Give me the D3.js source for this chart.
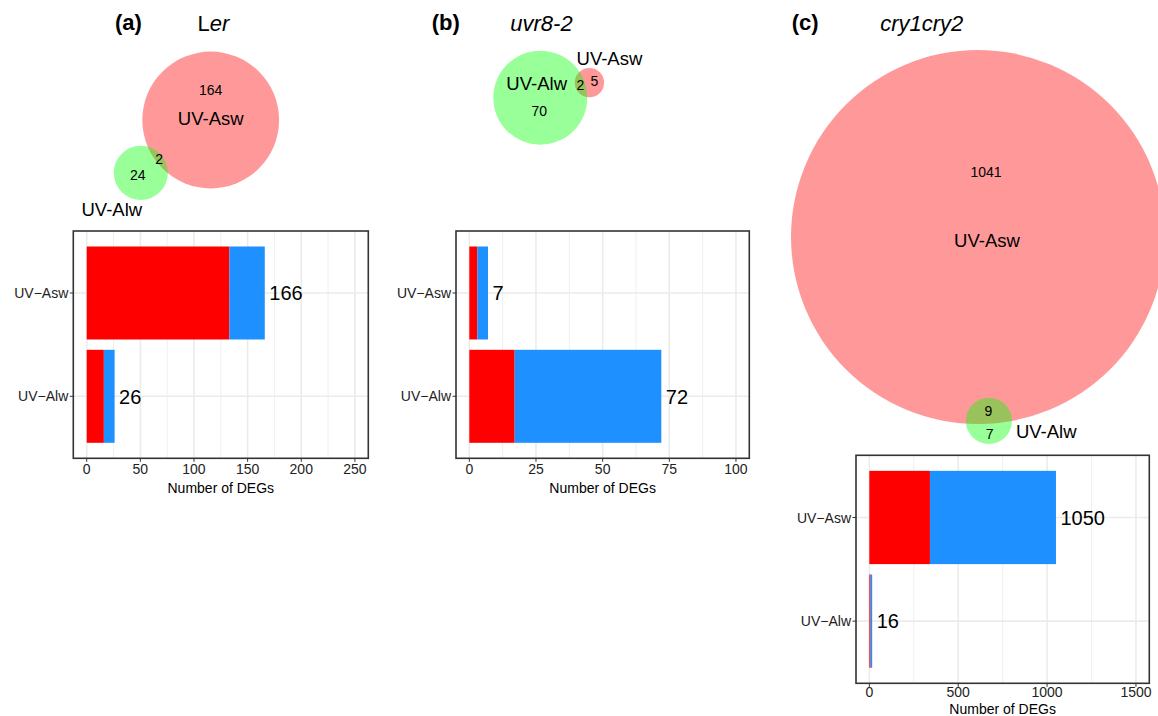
<!DOCTYPE html>
<html>
<head>
<meta charset="utf-8">
<script src="https://cdn.jsdelivr.net/npm/d3@7"></script>
<style>
  html, body { margin: 0; padding: 0; background: #fff; }
  svg { display: block; font-family: "Liberation Sans", Arial, Helvetica, sans-serif; }
</style>
</head>
<body>
<svg id="chart" width="1158" height="716"></svg>
<script>
// ---- data ----
const categories = ["UV-Asw", "UV-Alw"];
const panelTags = ["(a)", "(b)", "(c)"];
const genotypes = ["Ler", "uvr8-2", "cry1cry2"];

// up- (red) and down-regulated (blue) DEG counts, per category
const lerUp = [133, 16];
const lerDown = [33, 10];
const uvr8Up = [3, 17];
const uvr8Down = [4, 55];
const cryUp = [341, 7];
const cryDown = [709, 9];

// Venn counts per genotype
const aswOnly = [164, 5, 1041];
const alwOnly = [24, 70, 7];
const shared = [2, 2, 9];

// x axis limits and tick labels
const xMax = [250, 100, 1500];
const xTicks = [
  [0, 50, 100, 150, 200, 250],
  [0, 25, 50, 75, 100],
  [0, 500, 1000, 1500]
];

const upSeries = [lerUp, uvr8Up, cryUp];
const downSeries = [lerDown, uvr8Down, cryDown];

// ---- layout ----
const layout = [
  {
    frame: { x0: 73.3, x1: 368.3, y0: 231, y1: 458.3 }, tickPad: 16, titlePad: 34.4,
    tag: { x: 115, y: 30 }, title: { x: 213.5, y: 31 },
    venn: { big: 0, cx: 210.7, cy: 120, r: 68.4, angle: 142.9,
            bigOnlyOff: [0, -30], bigNameOff: [0, -1.5], smallNameOff: [-29, 37], smallAnchor: "middle" }
  },
  {
    frame: { x0: 456, x1: 749.3, y0: 231, y1: 458.3 }, tickPad: 16, titlePad: 34.4,
    tag: { x: 431.7, y: 30 }, title: { x: 541.5, y: 31 },
    venn: { big: 1, cx: 540.3, cy: 97.7, r: 47, angle: -17,
            bigOnlyOff: [-1, 13], bigNameOff: [-3.6, -14.4], smallNameOff: [20, -24], smallAnchor: "middle" }
  },
  {
    frame: { x0: 856, x1: 1149.3, y0: 455.3, y1: 683.3 }, tickPad: 13.4, titlePad: 30.5,
    tag: { x: 791.7, y: 29.5 }, title: { x: 921.8, y: 31 },
    venn: { big: 0, cx: 978, cy: 237, r: 187, angle: 86.6,
            bigOnlyOff: [8, -65], bigNameOff: [9, 3], smallNameOff: [27, 11], smallAnchor: "start" }
  }
];

const RED = "#ff0000", BLUE = "#1e90ff";
const svg = d3.select("#chart");

// intersection area of two circles at centre distance d
function lensArea(r1, r2, d) {
  if (d >= r1 + r2) return 0;
  if (d <= Math.abs(r1 - r2)) return Math.PI * Math.min(r1, r2) ** 2;
  const a1 = Math.acos((d * d + r1 * r1 - r2 * r2) / (2 * d * r1));
  const a2 = Math.acos((d * d + r2 * r2 - r1 * r1) / (2 * d * r2));
  const k = Math.sqrt((-d + r1 + r2) * (d + r1 - r2) * (d - r1 + r2) * (d + r1 + r2));
  return r1 * r1 * a1 + r2 * r2 * a2 - 0.5 * k;
}
function solveDistance(r1, r2, target) {
  let lo = Math.abs(r1 - r2), hi = r1 + r2;
  for (let i = 0; i < 80; i++) {
    const mid = (lo + hi) / 2;
    if (lensArea(r1, r2, mid) > target) lo = mid; else hi = mid;
  }
  return (lo + hi) / 2;
}

layout.forEach((L, p) => {
  const g = svg.append("g");

  // panel tag and genotype title
  g.append("text").attr("x", L.tag.x).attr("y", L.tag.y)
    .attr("font-size", 22).attr("font-weight", "bold").text(panelTags[p]);
  const t = g.append("text").attr("x", L.title.x).attr("y", L.title.y)
    .attr("font-size", 22).attr("text-anchor", "middle");
  if (genotypes[p] === "Ler") {
    t.append("tspan").text("L");
    t.append("tspan").attr("font-style", "italic").text("er");
  } else {
    t.attr("font-style", "italic").text(genotypes[p]);
  }

  // ---- Euler diagram ----
  const V = L.venn;
  const totals = [aswOnly[p] + shared[p], alwOnly[p] + shared[p]]; // [Asw, Alw]
  const bigIdx = V.big, smallIdx = 1 - V.big;
  const k = V.r / Math.sqrt(totals[bigIdx]);
  const rScale = d3.scaleSqrt().domain([0, totals[bigIdx]]).range([0, V.r]);
  const r1 = rScale(totals[bigIdx]);
  const r2 = rScale(totals[smallIdx]);
  const d = solveDistance(r1, r2, Math.PI * k * k * shared[p]);
  const ang = V.angle * Math.PI / 180;
  const ux = Math.cos(ang), uy = Math.sin(ang);
  const c1 = [V.cx, V.cy];
  const c2 = [V.cx + d * ux, V.cy + d * uy];
  const centers = bigIdx === 0 ? [c1, c2] : [c2, c1];
  const radii = bigIdx === 0 ? [r1, r2] : [r2, r1];
  const fills = ["#ff0000", "#00ff00"]; // Asw, Alw

  [0, 1].forEach(i => {
    g.append("circle")
      .attr("cx", centers[i][0]).attr("cy", centers[i][1]).attr("r", radii[i])
      .attr("fill", fills[i]).attr("fill-opacity", 0.4);
  });

  const bigOnlyCount = bigIdx === 0 ? aswOnly[p] : alwOnly[p];
  const smallOnlyCount = bigIdx === 0 ? alwOnly[p] : aswOnly[p];
  const numLabel = (x, y, txt) => g.append("text").attr("x", x).attr("y", y)
    .attr("font-size", 14).attr("text-anchor", "middle")
    .attr("dominant-baseline", "central").text(txt);
  const nameLabel = (x, y, txt, anchor) => g.append("text").attr("x", x).attr("y", y)
    .attr("font-size", 18.5).attr("text-anchor", anchor)
    .attr("dominant-baseline", "central").text(txt);

  const lensMid = (d - r2 + r1) / 2;
  const smallMid = (r1 + d + r2) / 2;
  numLabel(V.cx + V.bigOnlyOff[0], V.cy + V.bigOnlyOff[1], bigOnlyCount);
  nameLabel(V.cx + V.bigNameOff[0], V.cy + V.bigNameOff[1], categories[bigIdx], "middle");
  numLabel(V.cx + lensMid * ux, V.cy + lensMid * uy, shared[p]);
  numLabel(V.cx + smallMid * ux, V.cy + smallMid * uy, smallOnlyCount);
  nameLabel(c2[0] + V.smallNameOff[0], c2[1] + V.smallNameOff[1], categories[smallIdx], V.smallAnchor);

  // ---- stacked bar chart ----
  const F = L.frame;
  const pad = xMax[p] * 0.05;
  const x = d3.scaleLinear().domain([-pad, xMax[p] + pad]).range([F.x0, F.x1]);
  const y = d3.scaleBand().domain(categories).range([F.y0, F.y1])
    .paddingInner(0.1).paddingOuter(0.15);

  const ticks = xTicks[p];
  const minor = d3.pairs(ticks).map(([a, b]) => (a + b) / 2);

  const grid = g.append("g");
  grid.selectAll("line.minor").data(minor).join("line")
    .attr("x1", v => x(v)).attr("x2", v => x(v)).attr("y1", F.y0).attr("y2", F.y1)
    .attr("stroke", "#ebebeb").attr("stroke-width", 0.8);
  grid.selectAll("line.major").data(ticks).join("line")
    .attr("x1", v => x(v)).attr("x2", v => x(v)).attr("y1", F.y0).attr("y2", F.y1)
    .attr("stroke", "#ebebeb").attr("stroke-width", 1.6);
  grid.selectAll("line.hmajor").data(categories).join("line")
    .attr("x1", F.x0).attr("x2", F.x1)
    .attr("y1", c => y(c) + y.bandwidth() / 2).attr("y2", c => y(c) + y.bandwidth() / 2)
    .attr("stroke", "#ebebeb").attr("stroke-width", 1.6);

  const rows = categories.map((c, i) => ({
    cat: c, up: upSeries[p][i], down: downSeries[p][i], total: upSeries[p][i] + downSeries[p][i]
  }));

  g.selectAll("rect.up").data(rows).join("rect")
    .attr("x", r => x(0)).attr("y", r => y(r.cat))
    .attr("width", r => x(r.up) - x(0)).attr("height", y.bandwidth())
    .attr("fill", RED);
  g.selectAll("rect.down").data(rows).join("rect")
    .attr("x", r => x(r.up)).attr("y", r => y(r.cat))
    .attr("width", r => x(r.total) - x(r.up)).attr("height", y.bandwidth())
    .attr("fill", BLUE);

  g.selectAll("text.val").data(rows).join("text")
    .attr("x", r => x(r.total) + 4.5).attr("y", r => y(r.cat) + y.bandwidth() / 2)
    .attr("dy", "0.36em").attr("font-size", 20).attr("fill", "#000")
    .text(r => r.total);

  // panel border
  g.append("rect").attr("x", F.x0).attr("y", F.y0)
    .attr("width", F.x1 - F.x0).attr("height", F.y1 - F.y0)
    .attr("fill", "none").attr("stroke", "#333").attr("stroke-width", 1.6);

  // x axis ticks + labels
  g.selectAll("line.xt").data(ticks).join("line")
    .attr("x1", v => x(v)).attr("x2", v => x(v)).attr("y1", F.y1).attr("y2", F.y1 + 3.5)
    .attr("stroke", "#333").attr("stroke-width", 1);
  g.selectAll("text.xt").data(ticks).join("text")
    .attr("x", v => x(v)).attr("y", F.y1 + L.tickPad)
    .attr("text-anchor", "middle").attr("font-size", 14).attr("fill", "#222")
    .text(v => v);
  g.append("text").attr("x", (F.x0 + F.x1) / 2).attr("y", F.y1 + L.titlePad)
    .attr("text-anchor", "middle").attr("font-size", 14).attr("fill", "#000")
    .text("Number of DEGs");

  // y axis ticks + labels
  g.selectAll("line.yt").data(categories).join("line")
    .attr("x1", F.x0 - 3.5).attr("x2", F.x0)
    .attr("y1", c => y(c) + y.bandwidth() / 2).attr("y2", c => y(c) + y.bandwidth() / 2)
    .attr("stroke", "#333").attr("stroke-width", 1);
  g.selectAll("text.yt").data(categories).join("text")
    .attr("x", F.x0 - 5).attr("y", c => y(c) + y.bandwidth() / 2)
    .attr("dy", "0.36em").attr("text-anchor", "end").attr("font-size", 14).attr("fill", "#222")
    .text(c => c.replace("-", "\u2212"));
});
</script>
</body>
</html>
